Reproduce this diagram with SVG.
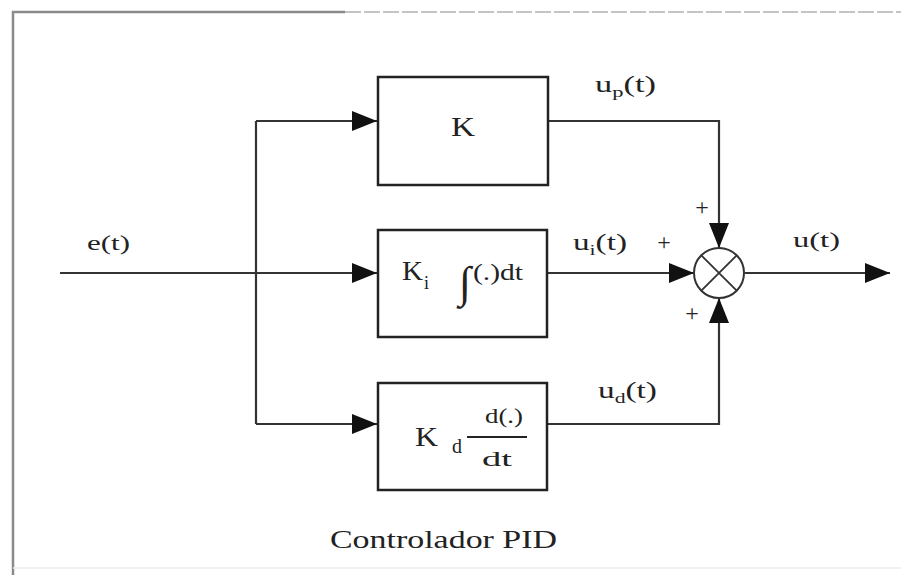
<svg xmlns="http://www.w3.org/2000/svg" width="901" height="575" viewBox="0 0 901 575">
<style>
.box{fill:#fff;stroke:#222;stroke-width:2.5}
.wire{fill:none;stroke:#333;stroke-width:2.2}
.arr{fill:none;stroke:#333;stroke-width:2.2;marker-end:url(#ah)}
.t{font-family:"Liberation Serif","Times New Roman",serif;fill:#222}
.frame{stroke:#8a8a8a;stroke-width:2.5;fill:none}
</style>
<defs>
<marker id="ah" markerUnits="userSpaceOnUse" markerWidth="26" markerHeight="22" refX="25" refY="10" orient="auto">
<path d="M0,0 L25,10 L0,20 Z" fill="#111"/>
</marker>
</defs>
<rect x="0" y="0" width="901" height="575" fill="#fff"/>
<g id="frame">
<path class="frame" d="M13,575 V12 H345"/>
<path d="M345,12 H901" stroke="#c4c4c4" stroke-width="2" stroke-dasharray="16,3" fill="none"/>
<path d="M13,568 H901" stroke="#ececec" stroke-width="1.5" fill="none"/>
</g>
<g id="connectors">
<path class="wire" d="M60,273 H256"/>
<path class="wire" d="M256,121 V424"/>
<path class="arr" d="M256,121 H377"/>
<path class="arr" d="M256,273 H377"/>
<path class="arr" d="M256,424 H377"/>
<path class="arr" d="M548,121 H719 V248"/>
<path class="arr" d="M547,273 H694"/>
<path class="arr" d="M547,424 H719 V298"/>
<path class="arr" d="M745,273 H890"/>
</g>
<g id="node-K">
<rect class="box" x="378" y="77" width="170" height="108"/>
<text class="t" x="451" y="136" font-size="27" textLength="24" lengthAdjust="spacingAndGlyphs">K</text>
</g>
<g id="node-Ki">
<rect class="box" x="378" y="230" width="169" height="107"/>
<text class="t" x="402" y="280" font-size="27" textLength="21" lengthAdjust="spacingAndGlyphs">K</text>
<text class="t" x="424" y="289" font-size="18">i</text>
<text class="t" x="459" y="297" font-size="44">∫</text>
<text class="t" x="473" y="280" font-size="23" textLength="50" lengthAdjust="spacingAndGlyphs">(.)dt</text>
</g>
<g id="node-Kd">
<rect class="box" x="378" y="383" width="169" height="107"/>
<text class="t" x="415" y="446" font-size="27" textLength="23" lengthAdjust="spacingAndGlyphs">K</text>
<text class="t" x="452" y="453" font-size="20">d</text>
<text class="t" x="504" y="423" font-size="22" text-anchor="middle" textLength="38" lengthAdjust="spacingAndGlyphs">d(.)</text>
<path d="M467,437 H527" stroke="#222" stroke-width="2"/>
<text class="t" x="497" y="466" font-size="22" text-anchor="middle" textLength="30" lengthAdjust="spacingAndGlyphs">dt</text>
</g>
<g id="node-sum">
<circle cx="719" cy="273" r="25" fill="#fff" stroke="#333" stroke-width="2"/>
<path d="M701.3,255.3 L736.7,290.7 M736.7,255.3 L701.3,290.7" stroke="#333" stroke-width="1.8"/>
</g>
<g id="labels">
<text class="t" x="87" y="250" font-size="22" textLength="43" lengthAdjust="spacingAndGlyphs">e(t)</text>
<text class="t" x="595" y="92" font-size="23" textLength="61" lengthAdjust="spacingAndGlyphs">u<tspan font-size="15" dy="5">p</tspan><tspan dy="-5">(t)</tspan></text>
<text class="t" x="573" y="250" font-size="23" textLength="54" lengthAdjust="spacingAndGlyphs">u<tspan font-size="15" dy="5">i</tspan><tspan dy="-5">(t)</tspan></text>
<text class="t" x="598" y="398" font-size="23" textLength="59" lengthAdjust="spacingAndGlyphs">u<tspan font-size="15" dy="5">d</tspan><tspan dy="-5">(t)</tspan></text>
<text class="t" x="793" y="247" font-size="22" textLength="47" lengthAdjust="spacingAndGlyphs">u(t)</text>
<text class="t" x="702" y="215" font-size="24" text-anchor="middle">+</text>
<text class="t" x="664" y="250" font-size="24" text-anchor="middle">+</text>
<text class="t" x="692" y="321" font-size="24" text-anchor="middle">+</text>
<text class="t" x="330" y="548" font-size="26" textLength="227" lengthAdjust="spacingAndGlyphs">Controlador PID</text>
</g>
</svg>
